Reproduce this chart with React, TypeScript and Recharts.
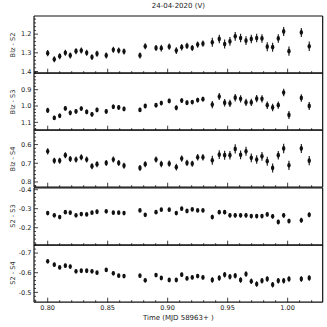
import React from "react";
import { ScatterChart, Scatter, XAxis, YAxis, ErrorBar } from "recharts";

// Observation times (MJD 58963+)
const times = [
  0.8, 0.8055, 0.81, 0.8147, 0.8188, 0.8236, 0.828, 0.8325, 0.8369, 0.8411,
  0.8488, 0.8547, 0.8592, 0.8636, 0.8769, 0.8813, 0.8903, 0.8947, 0.9013, 0.9072,
  0.9117, 0.9161, 0.9205, 0.925, 0.9294, 0.9372, 0.943, 0.9475, 0.9519, 0.9563,
  0.9608, 0.9653, 0.9697, 0.9742, 0.9786, 0.983, 0.9875, 0.9922, 0.9967, 1.0011,
  1.0114, 1.018,
];

const blzS2 = [
  1.302, 1.335, 1.318, 1.3, 1.314, 1.291, 1.288, 1.3, 1.323, 1.305,
  1.314, 1.284, 1.288, 1.293, 1.314, 1.265, 1.274, 1.275, 1.267, 1.288,
  1.27, 1.263, 1.274, 1.256, 1.251, 1.244, 1.226, 1.253, 1.239, 1.212,
  1.221, 1.235, 1.226, 1.221, 1.223, 1.267, 1.27, 1.223, 1.186, 1.291,
  1.191, 1.265,
];
const blzS2Err = [
  0.017, 0.016, 0.016, 0.016, 0.016, 0.016, 0.016, 0.016, 0.016, 0.016,
  0.016, 0.016, 0.016, 0.016, 0.016, 0.016, 0.016, 0.018, 0.017, 0.018,
  0.017, 0.017, 0.016, 0.017, 0.017, 0.024, 0.023, 0.024, 0.023, 0.024,
  0.023, 0.023, 0.023, 0.023, 0.023, 0.024, 0.024, 0.023, 0.024, 0.025,
  0.024, 0.025,
];

const blzS3 = [
  1.027, 1.073, 1.06, 1.015, 1.042, 1.033, 1.016, 1.036, 1.051, 1.024,
  1.033, 1.005, 1.009, 1.018, 1.024, 1.0, 0.995, 0.982, 0.969, 1.011,
  0.967, 0.98, 0.976, 0.964, 0.958, 0.991, 0.942, 0.98, 0.984, 0.949,
  0.956, 0.978, 0.978, 0.955, 0.956, 0.995, 1.009, 0.995, 0.918, 1.055,
  0.951, 1.0,
];
const blzS3Err = [
  0.016, 0.013, 0.014, 0.013, 0.014, 0.013, 0.013, 0.014, 0.014, 0.014,
  0.014, 0.014, 0.014, 0.014, 0.013, 0.013, 0.014, 0.014, 0.014, 0.015,
  0.014, 0.014, 0.013, 0.014, 0.014, 0.022, 0.022, 0.023, 0.022, 0.023,
  0.022, 0.022, 0.022, 0.022, 0.022, 0.023, 0.023, 0.022, 0.023, 0.024,
  0.023, 0.024,
];

const blzS4 = [
  0.636, 0.686, 0.686, 0.657, 0.677, 0.68, 0.668, 0.68, 0.716, 0.705,
  0.698, 0.68, 0.698, 0.713, 0.725, 0.705, 0.68, 0.704, 0.702, 0.721,
  0.675, 0.698, 0.702, 0.668, 0.668, 0.684, 0.654, 0.657, 0.657, 0.623,
  0.655, 0.636, 0.671, 0.68, 0.663, 0.689, 0.725, 0.657, 0.621, 0.711,
  0.621, 0.686,
];
const blzS4Err = [
  0.017, 0.016, 0.016, 0.016, 0.016, 0.016, 0.016, 0.016, 0.016, 0.016,
  0.016, 0.016, 0.016, 0.016, 0.016, 0.016, 0.016, 0.017, 0.017, 0.018,
  0.017, 0.017, 0.016, 0.017, 0.017, 0.024, 0.023, 0.024, 0.023, 0.025,
  0.023, 0.024, 0.023, 0.023, 0.023, 0.024, 0.024, 0.023, 0.025, 0.025,
  0.024, 0.025,
];

const s2S3 = [
  -0.277, -0.265, -0.256, -0.282, -0.279, -0.265, -0.272, -0.27, -0.279, -0.284,
  -0.286, -0.279, -0.279, -0.277, -0.291, -0.268, -0.282, -0.295, -0.295, -0.277,
  -0.3, -0.288, -0.296, -0.291, -0.291, -0.256, -0.282, -0.282, -0.265, -0.265,
  -0.265, -0.265, -0.261, -0.261, -0.261, -0.27, -0.26, -0.23, -0.265, -0.235,
  -0.239, -0.268,
];
const s2S3Err = [
  0.009, 0.008, 0.008, 0.008, 0.008, 0.008, 0.008, 0.008, 0.008, 0.008,
  0.008, 0.008, 0.008, 0.008, 0.008, 0.008, 0.008, 0.008, 0.008, 0.008,
  0.008, 0.008, 0.008, 0.008, 0.008, 0.012, 0.011, 0.011, 0.011, 0.011,
  0.011, 0.011, 0.011, 0.011, 0.011, 0.011, 0.012, 0.012, 0.012, 0.012,
  0.013, 0.013,
];

const s2S4 = [
  -0.658, -0.641, -0.627, -0.636, -0.631, -0.607, -0.61, -0.61, -0.607, -0.6,
  -0.614, -0.597, -0.585, -0.583, -0.585, -0.561, -0.588, -0.573, -0.563, -0.563,
  -0.59, -0.571, -0.576, -0.583, -0.576, -0.563, -0.573, -0.59, -0.58, -0.585,
  -0.563, -0.593, -0.556, -0.542, -0.559, -0.568, -0.539, -0.559, -0.559, -0.568,
  -0.568, -0.573,
];
const s2S4Err = [
  0.009, 0.009, 0.009, 0.009, 0.009, 0.009, 0.009, 0.009, 0.009, 0.009,
  0.009, 0.009, 0.009, 0.009, 0.009, 0.009, 0.009, 0.01, 0.01, 0.01,
  0.01, 0.01, 0.009, 0.01, 0.01, 0.014, 0.014, 0.014, 0.014, 0.014,
  0.014, 0.014, 0.014, 0.014, 0.014, 0.014, 0.014, 0.014, 0.014, 0.014,
  0.014, 0.014,
];

const panelLabels = ["Blz - S2", "Blz - S3", "Blz - S4", "S2 - S3", "S2 - S4"];
const panelValues = [blzS2, blzS3, blzS4, s2S3, s2S4];
const panelErrors = [blzS2Err, blzS3Err, blzS4Err, s2S3Err, s2S4Err];
const panelDomains: [number, number][] = [
  [1.103, 1.409],
  [0.798, 1.148],
  [0.522, 0.828],
  [-0.409, -0.108],
  [-0.741, -0.45],
];
const panelMajorTicks = [
  [1.2, 1.3, 1.4],
  [0.9, 1.0, 1.1],
  [0.6, 0.7, 0.8],
  [-0.4, -0.3, -0.2],
  [-0.7, -0.6, -0.5],
];
const xMajorTicks = [0.8, 0.85, 0.9, 0.95, 1.0];
const xDomain: [number, number] = [0.7886, 1.0292];
const title = "24-04-2020  (V)";
const xLabel = "Time (MJD 58963+ )";

const W = 327;
const PLOT_LEFT = 34;
const PLOT_RIGHT = 322.7;
const PLOT_TOP = 16;
const PANEL_H = 57.2;
const PAD = 6;
const Y_W = 20;
const R_W = 2;
const TOP_H = 2;
const FONT = "'DejaVu Sans', sans-serif";
const INK = "#111";

const r3 = (v: number) => Math.round(v * 1000) / 1000;

function minorTicks(domain: [number, number], step: number) {
  const out: number[] = [];
  const lo = Math.min(domain[0], domain[1]);
  const hi = Math.max(domain[0], domain[1]);
  for (let k = Math.ceil(lo / step - 1e-6); k * step <= hi + 1e-9; k++) out.push(r3(k * step));
  return out;
}

const isMajor = (v: number, majors: number[]) => majors.some((m) => Math.abs(m - v) < 1e-6);

const YTick = (props: any) => {
  const { y, payload, majors } = props;
  const major = isMajor(payload.value, majors);
  const ax = PLOT_LEFT;
  return (
    <g>
      <line x1={ax} x2={ax + (major ? 4 : 2)} y1={y} y2={y} stroke={INK} strokeWidth={0.8} />
      {major && (
        <text x={ax - 2.5} y={y} dy={2.3} textAnchor="end" fontSize={6.6} fill="#222" fontFamily={FONT}>
          {payload.value.toFixed(1)}
        </text>
      )}
    </g>
  );
};

const XTick = (props: any) => {
  const { x, payload, showLabel, axisY } = props;
  const major = isMajor(payload.value, xMajorTicks);
  const ay = axisY;
  return (
    <g>
      <line x1={x} x2={x} y1={ay} y2={ay - (major ? 4.5 : 2)} stroke={INK} strokeWidth={0.8} />
      {showLabel && major && (
        <text x={x} y={ay + 8.3} textAnchor="middle" fontSize={6.6} fill="#222" fontFamily={FONT}>
          {payload.value.toFixed(2)}
        </text>
      )}
    </g>
  );
};

const Dot = (props: any) => {
  const { cx, cy } = props;
  if (cx == null || cy == null) return null;
  return <ellipse cx={cx} cy={cy} rx={1.7} ry={2.4} fill={INK} />;
};

function Panel({ idx }: { idx: number }) {
  const data = times.map((t, i) => ({ t, v: panelValues[idx][i], e: panelErrors[idx][i] }));
  const dom = panelDomains[idx];
  const yTicks = minorTicks(dom, 0.02);
  const xTicks = minorTicks(xDomain, 0.01);
  const last = idx === panelValues.length - 1;
  const top = PLOT_TOP + idx * PANEL_H;
  const padBottom = last ? 16 : PAD;
  const xH = padBottom - 2;
  return (
    <div style={{ position: "absolute", left: 0, top: top - PAD }}>
      <ScatterChart
        width={W}
        height={PANEL_H + PAD + padBottom}
        margin={{ top: PAD - TOP_H, bottom: padBottom - xH, left: PLOT_LEFT - Y_W, right: W - PLOT_RIGHT - R_W }}
        style={{ overflow: "visible" }}
      >
        <XAxis
          type="number"
          dataKey="t"
          domain={xDomain}
          allowDataOverflow
          ticks={xTicks}
          interval={0}
          height={xH}
          tickSize={0}
          tickMargin={0}
          tickLine={false}
          axisLine={{ stroke: INK, strokeWidth: 1.2 }}
          tick={<XTick showLabel={last} axisY={PAD + PANEL_H} />}
        />
        <XAxis
          xAxisId="top"
          orientation="top"
          type="number"
          domain={xDomain}
          height={TOP_H}
          tick={false}
          tickLine={false}
          axisLine={{ stroke: INK, strokeWidth: 1.2 }}
        />
        <YAxis
          type="number"
          dataKey="v"
          domain={dom}
          reversed
          allowDataOverflow
          ticks={yTicks}
          interval={0}
          width={Y_W}
          tickSize={0}
          tickMargin={0}
          tickLine={false}
          axisLine={{ stroke: INK, strokeWidth: 1.2 }}
          tick={<YTick majors={panelMajorTicks[idx]} />}
        />
        <YAxis
          yAxisId="right"
          orientation="right"
          type="number"
          domain={dom}
          width={R_W}
          tick={false}
          tickLine={false}
          axisLine={{ stroke: INK, strokeWidth: 1.2 }}
        />
        <Scatter data={data} shape={<Dot />} isAnimationActive={false}>
          <ErrorBar dataKey="e" direction="y" width={0} stroke={INK} strokeWidth={1.1} isAnimationActive={false} />
        </Scatter>
      </ScatterChart>
    </div>
  );
}

export default function App() {
  return (
    <div style={{ position: "absolute", left: 0, top: 0, width: W, height: W, background: "#fff", fontFamily: FONT, overflow: "hidden" }}>
      <div style={{ position: "absolute", left: PLOT_LEFT, width: PLOT_RIGHT - PLOT_LEFT, top: 2, textAlign: "center", fontSize: 7, color: "#222", lineHeight: "9px" }}>
        {title}
      </div>
      {panelLabels.map((_, i) => (
        <Panel key={i} idx={i} />
      ))}
      {panelLabels.map((lab, i) => (
        <div
          key={"l" + i}
          style={{
            position: "absolute",
            left: 13 - 30,
            width: 60,
            top: PLOT_TOP + i * PANEL_H + PANEL_H / 2 - 5,
            height: 10,
            lineHeight: "10px",
            textAlign: "center",
            fontSize: 6.6,
            color: "#333",
            transform: "rotate(-90deg)",
            whiteSpace: "nowrap",
          }}
        >
          {lab}
        </div>
      ))}
      <div style={{ position: "absolute", left: PLOT_LEFT, width: PLOT_RIGHT - PLOT_LEFT, top: 314, textAlign: "center", fontSize: 7, color: "#222", lineHeight: "9px" }}>
        {xLabel}
      </div>
    </div>
  );
}
